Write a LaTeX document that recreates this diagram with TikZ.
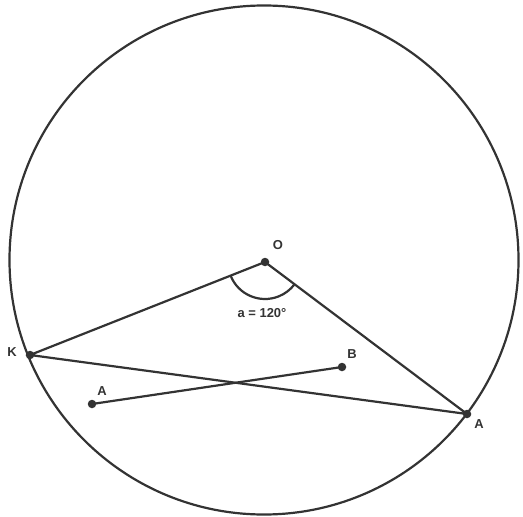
\documentclass[tikz,border=0pt]{standalone}
\usepackage{fontspec}
\setmainfont{Liberation Sans}
\usetikzlibrary{calc}
\begin{document}
\begin{tikzpicture}[x=1bp,y=-1bp,
  line/.style={line width=2.2bp, draw=black!80},
  dot/.style={circle, fill=black!80, inner sep=0pt, minimum size=8.5bp},
  lab/.style={font=\bfseries\fontsize{13}{15}\selectfont, text=black!80, inner sep=0pt}]
\useasboundingbox (0,0) rectangle (523,517);
\coordinate (C) at (264,260);
\draw[line] (C) circle[radius=254.5];
\node[dot] (O) at (265,262) {};
\node[dot] (K) at (30,355) {};
\node[dot] (Ar) at (467,414) {};
\node[dot] (A) at (92,404) {};
\node[dot] (B) at (342,367) {};
\draw[line] (K.center) -- (O.center) -- (Ar.center) -- cycle;
\draw[line] (A.center) -- (B.center);
\draw[line] ($(O.center)+(158.4:37)$) arc[start angle=158.4, end angle=37, radius=37];
\node[lab] (Ol) at (278,245) {O};
\node[lab] (Kl) at (12,352) {K};
\node[lab] (Arl) at (479,424) {A};
\node[lab] (Al) at (102,391) {A};
\node[lab] (Bl) at (352,354) {B};
\node[lab, font=\bfseries\fontsize{13}{15}\selectfont] (al) at (262,313) {a = 120°};
\end{tikzpicture}
\end{document}
